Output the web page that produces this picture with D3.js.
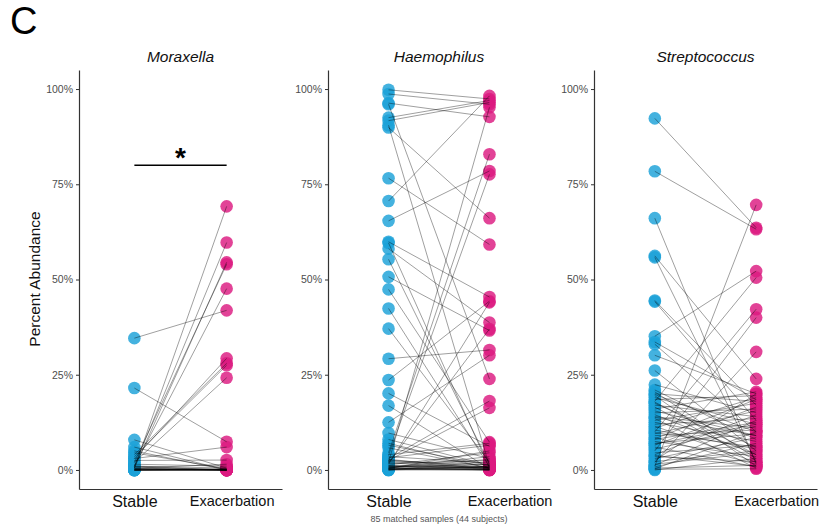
<!DOCTYPE html>
<html>
<head>
<meta charset="utf-8">
<script src="https://cdn.jsdelivr.net/npm/d3@7"></script>
<style>
  body { margin: 0; background: #fff; }
  svg { display: block; }
  text { font-family: "Liberation Sans", Arial, sans-serif; }
</style>
</head>
<body>
<svg id="chart" width="820" height="526"></svg>
<script>
const conditions = ['Stable', 'Exacerbation'];
const genera = ['Moraxella', 'Haemophilus', 'Streptococcus'];
const yTicks = [0, 0.25, 0.5, 0.75, 1];
const caption = '85 matched samples (44 subjects)';

// percent abundance per matched pair, stable[i] pairs with exacerbation[i]
const moraxellaStable = [34.6, 21.5, 0.5, 1.0, 0.5, 2.0, 1.0, 3.0, 4.0, 3.5, 2.0, 7.9, 6.0, 5.0, 4.5, 3.0, 2.5,
  1.5, 1.0, 0.5, 0, 0, 0, 0.3, 0, 0.2, 0, 1.0, 0.5, 0, 0.8, 0, 0.4, 0];
const moraxellaExac = [41.9, 7.4, 69.2, 59.7, 54.5, 54.0, 47.6, 29.3, 28.0, 27.5, 24.2, 0.5, 0, 0, 0.3, 6.0, 2.6,
  1.0, 0, 0, 0, 0, 0, 0, 0.2, 0, 0, 0.5, 1.5, 0, 0, 0.3, 0, 0];

const haemophilusStable = [99.8, 98.7, 96.3, 96.0, 92.5, 91.7, 89.9, 90.5, 76.6, 70.6, 65.4, 59.9, 59.6, 58.1, 55.3,
  50.7, 47.4, 42.4, 37.1, 29.2, 23.6, 20.1, 16.9, 12.5, 9.7, 8.0, 5.8, 4.5, 3.8, 3.0, 2.5, 2.0, 1.8, 1.5, 4.0, 3.2,
  1.2, 1.0, 0.8, 0.5, 0.3, 0, 2.2, 1.7, 0.6, 0.2, 0.4, 2.8, 1.3, 0.9, 0.1, 3.5, 0.7, 0, 1.1, 2.4, 0.2, 0, 1.9, 0.4,
  0.5, 2.6, 7.0, 6.5];
const haemophilusExac = [97.4, 96.0, 92.7, 23.9, 97.0, 96.5, 66.1, 1.0, 59.2, 98.2, 78.5, 45.4, 0.5, 38.7, 1.5,
  36.6, 7.3, 0.8, 2.0, 31.5, 44.3, 6.2, 0.3, 30.1, 3.0, 1.2, 0.5, 82.9, 77.6, 18.1, 16.3, 95.2, 37.0, 44.0, 7.0, 6.5,
  0.5, 0.2, 1.5, 0, 0.8, 0, 0.4, 2.5, 3.5, 1.0, 0.1, 0.2, 4.5, 0.6, 0.3, 1.8, 0, 2.2, 0.9, 1.3, 0, 0.7, 0.1, 5.0,
  2.8, 0.7, 0.4, 1.1];

const streptococcusStable = [92.3, 78.4, 66.1, 56.2, 55.8, 44.5, 44.2, 35.1, 33.6, 33.0, 30.1, 26.1, 22.4, 1.0, 18.0,
  10.0, 5.0, 2.0, 21, 20.5, 20, 19.5, 19, 18.5, 17.5, 17, 16.5, 16, 15.5, 15, 14.5, 14, 13.5, 13, 12.5, 12, 11.5, 11,
  10.5, 9.5, 9, 8.5, 8, 8.2, 7.5, 7, 6.5, 6, 5.5, 4.5, 4, 3.5, 3, 2.5, 1.5, 1.2, 0.8, 0.5, 0.3, 0, 0.2, 2.2, 3.8, 9.8,
  13.8, 17.8, 19.8, 6.8];
const streptococcusExac = [63.6, 63.2, 1.5, 23.9, 2.0, 17.0, 13.0, 52.2, 18.5, 10.0, 20.0, 5.0, 15.0, 69.6, 50.5,
  42.2, 40.0, 31.0, 8, 3, 18, 1, 12, 19.5, 6, 14, 2.5, 20.5, 9, 16, 4, 11, 0.5, 17.5, 7.5, 13.5, 2, 19, 5.5, 15.5,
  10.5, 1.5, 12.5, 18.5, 3.5, 9.5, 16.5, 0.8, 11.5, 6.5, 14.5, 2.2, 8.5, 20, 4.5, 13, 7, 1.2, 10, 3, 0.3, 5, 1, 6, 9,
  4, 10, 12];

const toPairs = (stable, exac) => stable.map((s, i) => [s / 100, exac[i] / 100]);
const series = [
  toPairs(moraxellaStable, moraxellaExac),
  toPairs(haemophilusStable, haemophilusExac),
  toPairs(streptococcusStable, streptococcusExac)
];
// only Moraxella is marked significant
const significant = [0.8, null, null];

const svg = d3.select('#chart');
const panelLeft = [79, 328, 594];
const panelRight = [282, 550, 817];
const exacLabelShift = [5, 20, 20];
const colors = ['#1ba1d8', '#dc1a80'];
const y = d3.scaleLinear().domain([-0.05, 1.05]).range([489, 70]);

svg.append('text')
  .attr('x', 10).attr('y', 34)
  .attr('font-size', 38)
  .text('C');

svg.append('text')
  .attr('transform', 'translate(40,279) rotate(-90)')
  .attr('text-anchor', 'middle')
  .attr('font-size', 15.5)
  .attr('fill', '#111')
  .text('Percent Abundance');

genera.forEach((genus, p) => {
  const data = series[p];
  const x = d3.scaleLinear().domain([0.4, 2.6]).range([panelLeft[p], panelRight[p]]);
  const g = svg.append('g').attr('class', `panel panel-${p}`);

  const yAxis = g.append('g')
    .attr('transform', `translate(${panelLeft[p]},0)`)
    .call(d3.axisLeft(y).tickValues(yTicks).tickFormat(d3.format('.0%')).tickSize(3).tickSizeOuter(0).tickPadding(3));
  yAxis.selectAll('text').attr('font-size', 10.5).attr('fill', '#4d4d4d').attr('font-family', '"Liberation Sans", Arial, sans-serif');

  const xAxis = g.append('g')
    .attr('transform', `translate(0,${y.range()[0]})`)
    .call(d3.axisBottom(x).tickValues([1, 2]).tickFormat((d) => conditions[d - 1]).tickSize(0).tickSizeOuter(0).tickPadding(7));
  xAxis.selectAll('text')
    .attr('fill', '#111')
    .attr('font-size', (d) => d === 1 ? 16 : 14.5)
    .attr('font-family', (d) => d === 1 ? '"Liberation Sans", Arial, sans-serif' : '"Open Sans", sans-serif')
    .attr('dx', (d) => d === 1 ? 0 : exacLabelShift[p]);

  g.selectAll('.domain').attr('stroke', '#333').attr('stroke-width', 1.2);
  g.selectAll('.tick line').attr('stroke', '#333');

  g.append('text')
    .attr('x', (panelLeft[p] + panelRight[p]) / 2)
    .attr('y', 62)
    .attr('text-anchor', 'middle')
    .attr('font-size', 15.5)
    .attr('font-style', 'italic')
    .attr('fill', '#111')
    .text(genus);

  [0, 1].forEach((c) => {
    g.append('g').selectAll('circle')
      .data(data)
      .join('circle')
      .attr('cx', x(c + 1))
      .attr('cy', (d) => y(d[c]))
      .attr('r', 6.3)
      .attr('fill', colors[c])
      .attr('fill-opacity', 0.82);
  });

  g.append('g').selectAll('line')
    .data(data)
    .join('line')
    .attr('x1', x(1))
    .attr('y1', (d) => y(d[0]))
    .attr('x2', x(2))
    .attr('y2', (d) => y(d[1]))
    .attr('stroke', '#000')
    .attr('stroke-opacity', 0.42)
    .attr('stroke-width', 0.9);

  if (significant[p] !== null) {
    g.append('line')
      .attr('x1', x(1)).attr('x2', x(2))
      .attr('y1', y(significant[p])).attr('y2', y(significant[p]))
      .attr('stroke', '#000')
      .attr('stroke-width', 1.5);
    g.append('text')
      .attr('x', (x(1) + x(2)) / 2)
      .attr('y', y(significant[p]) + 2)
      .attr('text-anchor', 'middle')
      .attr('font-size', 28)
      .attr('font-weight', 'bold')
      .text('*');
  }
});

// the source crops this caption at the bottom edge; kept just inside the frame
svg.append('text')
  .attr('x', 439).attr('y', 522)
  .attr('text-anchor', 'middle')
  .attr('font-size', 9)
  .attr('fill', '#555')
  .text(caption);
</script>
</body>
</html>
